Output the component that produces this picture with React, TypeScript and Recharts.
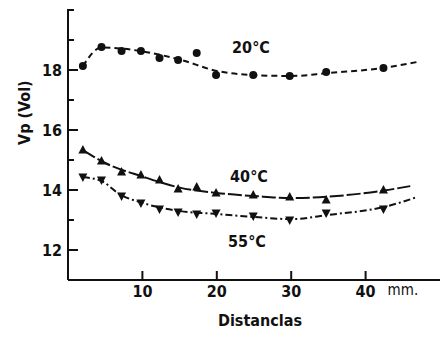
import { ComposedChart, Line, Scatter, XAxis, YAxis } from 'recharts'

// distances (mm) where the measurements were taken
const distances = [2, 4.5, 7.2, 9.8, 12.3, 14.8, 17.3, 19.9, 24.9, 29.8, 34.7, 42.4]
const vp20 = [18.13, 18.77, 18.63, 18.63, 18.4, 18.33, 18.57, 17.83, 17.83, 17.8, 17.93, 18.07]
const vp40 = [15.33, 14.97, 14.6, 14.5, 14.33, 14.03, 14.1, 13.9, 13.83, 13.77, 13.67, 14.0]
const vp55 = [14.43, 14.33, 13.8, 13.57, 13.37, 13.27, 13.2, 13.23, 13.13, 13.0, 13.23, 13.37]

// hand-drawn fitted curves
const curveX20 = [2, 4.5, 7, 10, 15, 20, 25, 30, 35, 42.4, 47]
const curveY20 = [18.13, 18.75, 18.72, 18.62, 18.35, 17.97, 17.83, 17.8, 17.9, 18.07, 18.27]
const curveX40 = [2, 5, 10, 15, 20, 25, 30, 35, 42.4, 46]
const curveY40 = [15.33, 14.9, 14.45, 14.08, 13.9, 13.8, 13.73, 13.78, 13.98, 14.13]
const curveX55 = [2, 4.5, 7, 10, 15, 20, 25, 30, 35, 42.4, 47]
const curveY55 = [14.43, 14.3, 13.85, 13.57, 13.3, 13.2, 13.1, 13.03, 13.17, 13.43, 13.77]

const xTicks = [10, 20, 30, 40]
const yTicks = [12, 13, 14, 15, 16, 17, 18, 19, 20]
const yLabeled = [12, 14, 16, 18]

const pts = (xs: number[], ys: number[]) => xs.map((x, i) => ({ x, y: ys[i] }))

const font = '"DejaVu Sans Condensed", "DejaVu Sans", sans-serif'

const YTick = (props: any) => {
  const { x, y, payload } = props
  const major = yLabeled.includes(payload.value)
  return (
    <g>
      <path d={`M${x + 4},${y}H${x + 5 + (major ? 10 : 6)}`} stroke="#111" strokeWidth={2} fill="none" />
      {major && (
        <text x={x - 1} y={y} dy={6} textAnchor="end" fontSize={16} fontWeight={600} fontFamily={font} fill="#111">
          {payload.value}
        </text>
      )}
    </g>
  )
}

const XTick = (props: any) => {
  const { x, y, payload } = props
  return (
    <g>
      <path d={`M${x},${y + 1}V${y - 9}`} stroke="#111" strokeWidth={2} fill="none" />
      <text x={x} y={y + 17} textAnchor="middle" fontSize={16} fontWeight={600} fontFamily={font} fill="#111">
        {payload.value}
      </text>
      {payload.value === 40 && (
        <text x={x + 22} y={y + 15} fontSize={15} fontFamily={font} fill="#111">
          mm.
        </text>
      )}
    </g>
  )
}

const Dot = (props: any) => <circle cx={props.cx} cy={props.cy} r={4} fill="#111" />
const Up = (props: any) => {
  const { cx, cy } = props
  return <path d={`M${cx},${cy - 5}L${cx + 4.5},${cy + 3.5}L${cx - 4.5},${cy + 3.5}Z`} fill="#111" />
}
const Down = (props: any) => {
  const { cx, cy } = props
  return <path d={`M${cx},${cy + 5}L${cx + 4.5},${cy - 3.5}L${cx - 4.5},${cy - 3.5}Z`} fill="#111" />
}

const SeriesLabel = ({ x, y, text }: { x: number; y: number; text: string }) => (
  <text x={x} y={y} textAnchor="middle" fontSize={16} fontWeight={600} fontFamily={font} fill="#111">
    {text}
  </text>
)

export default function App() {
  return (
    <div style={{ position: 'absolute', left: 0, top: 0, background: '#fff' }}>
      <ComposedChart width={440} height={342} margin={{ top: 10, right: 0, bottom: 0, left: 0 }}>
        <XAxis
          type="number"
          dataKey="x"
          domain={[0, 50]}
          ticks={xTicks}
          height={62}
          tick={<XTick />}
          tickSize={0}
          tickMargin={0}
          tickLine={false}
          axisLine={{ stroke: '#111', strokeWidth: 2 }}
          allowDataOverflow
          label={{ value: 'Distanclas', position: 'insideBottom', offset: 16, fontSize: 16, fontWeight: 600, fontFamily: font, fill: '#111', dx: 6 }}
        />
        <YAxis
          type="number"
          dataKey="y"
          domain={[11, 20]}
          ticks={yTicks}
          width={68}
          tick={<YTick />}
          tickSize={0}
          tickMargin={5}
          tickLine={false}
          axisLine={{ stroke: '#111', strokeWidth: 2 }}
          allowDataOverflow
          label={{ value: 'Vp (Vol)', angle: -90, position: 'insideLeft', offset: 24, fontSize: 16, fontWeight: 600, fontFamily: font, fill: '#111' }}
        />
        <Line data={pts(curveX20, curveY20)} dataKey="y" type="monotone" stroke="#111" strokeWidth={2} strokeDasharray="6 4" dot={false} isAnimationActive={false} />
        <Line data={pts(curveX40, curveY40)} dataKey="y" type="monotone" stroke="#111" strokeWidth={2} strokeDasharray="14 3" dot={false} isAnimationActive={false} />
        <Line data={pts(curveX55, curveY55)} dataKey="y" type="monotone" stroke="#111" strokeWidth={2} strokeDasharray="7 3 2 3" dot={false} isAnimationActive={false} />
        <Scatter data={pts(distances, vp20)} dataKey="y" shape={<Dot />} isAnimationActive={false} />
        <Scatter data={pts(distances, vp40)} dataKey="y" shape={<Up />} isAnimationActive={false} />
        <Scatter data={pts(distances, vp55)} dataKey="y" shape={<Down />} isAnimationActive={false} />
        <SeriesLabel x={251} y={53} text="20°C" />
        <SeriesLabel x={249} y={182} text="40°C" />
        <SeriesLabel x={247} y={247} text="55°C" />
      </ComposedChart>
    </div>
  )
}
